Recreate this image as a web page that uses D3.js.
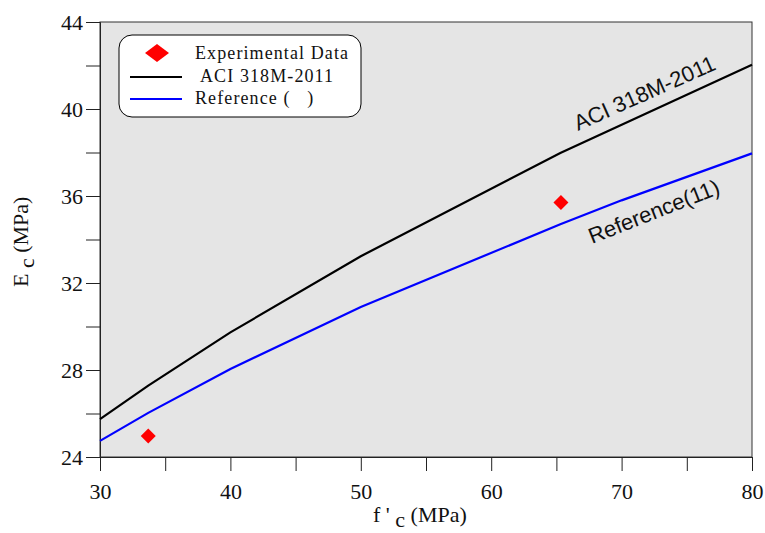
<!DOCTYPE html>
<html>
<head>
<meta charset="utf-8">
<script src="https://cdn.jsdelivr.net/npm/d3@7"></script>
<style>
  body { margin: 0; background: #fff; }
  svg { display: block; }
  .pre { white-space: pre; }
</style>
</head>
<body>
<div id="chart"></div>
<script>
// values
const aciFc = [30, 33.7, 40, 50, 65.3, 80];
const aciEc = [25.74, 27.28, 29.73, 33.23, 37.98, 42.04];
const refFc = [30, 33.7, 40, 50, 65.3, 70, 80];
const refEc = [24.74, 26.03, 28.05, 30.9, 34.7, 35.8, 37.96];
const expFc = [33.7, 65.35];
const expEc = [24.97, 35.7];
const xTicks = [30, 40, 50, 60, 70, 80];
const yTicks = [24, 28, 32, 36, 40, 44];

const width = 765;
const height = 533;
const margin = { top: 22, right: 13, bottom: 76, left: 100 };

const serif = "'Liberation Serif', 'Times New Roman', serif";
const sans = "'Liberation Sans', Arial, sans-serif";

const svg = d3.select('#chart')
  .append('svg')
  .attr('width', width)
  .attr('height', height);

const x = d3.scaleLinear()
  .domain([30, 80])
  .range([margin.left, width - margin.right]);

const y = d3.scaleLinear()
  .domain([24, 44])
  .range([height - margin.bottom, margin.top]);

// plot background
svg.append('rect')
  .attr('x', x(30))
  .attr('y', y(44))
  .attr('width', x(80) - x(30))
  .attr('height', y(24) - y(44))
  .attr('fill', '#e5e5e5')
  .attr('stroke', '#333')
  .attr('stroke-width', 1);

// x axis
svg.append('g')
  .attr('transform', `translate(0,${y(24)})`)
  .call(d3.axisBottom(x).tickValues(d3.range(30, 81, 5)).tickSize(14).tickFormat(d => xTicks.includes(d) ? d : ''))
  .attr('font-family', serif)
  .attr('font-size', 22)
  .call(g => g.select('.domain').attr('stroke', '#222'))
  .call(g => g.selectAll('.tick line').attr('stroke', '#222'))
  .call(g => g.selectAll('text')
    .attr('y', 26)
    .attr('dy', '0.71em')
    .attr('fill', '#111'));

// y axis
svg.append('g')
  .attr('transform', `translate(${x(30)},0)`)
  .call(d3.axisLeft(y).tickValues(d3.range(24, 45, 2)).tickSize(14).tickFormat(d => yTicks.includes(d) ? d : ''))
  .attr('font-family', serif)
  .attr('font-size', 22)
  .call(g => g.select('.domain').attr('stroke', '#222'))
  .call(g => g.selectAll('.tick line').attr('stroke', '#222'))
  .call(g => g.selectAll('text')
    .attr('x', -17)
    .attr('fill', '#111'));

// axis titles
const xTitle = svg.append('text')
  .attr('class', 'pre')
  .attr('x', 373)
  .attr('y', 522)
  .attr('fill', '#111')
  .attr('font-family', serif)
  .attr('font-size', 22);
xTitle.append('tspan').text("f ' ");
xTitle.append('tspan').attr('dy', 5).text('c');
xTitle.append('tspan').attr('dy', -5).text(' (MPa)');

const yTitle = svg.append('text')
  .attr('class', 'pre')
  .attr('transform', 'translate(28,287) rotate(-90)')
  .attr('fill', '#111')
  .attr('font-family', serif)
  .attr('font-size', 22);
yTitle.append('tspan').text('E ');
yTitle.append('tspan').attr('dy', 6).text('c');
yTitle.append('tspan').attr('dy', -6).text(' (MPa)');

// lines
const line = d3.line()
  .x(d => x(d[0]))
  .y(d => y(d[1]));

svg.append('path')
  .datum(aciFc.map((f, i) => [f, aciEc[i]]))
  .attr('fill', 'none')
  .attr('stroke', '#000')
  .attr('stroke-width', 2.2)
  .attr('d', line);

svg.append('path')
  .datum(refFc.map((f, i) => [f, refEc[i]]))
  .attr('fill', 'none')
  .attr('stroke', '#0000ff')
  .attr('stroke-width', 2.2)
  .attr('d', line);

svg.selectAll('.exp')
  .data(expFc.map((f, i) => [f, expEc[i]]))
  .enter()
  .append('path')
  .attr('class', 'exp')
  .attr('transform', d => `translate(${x(d[0])},${y(d[1])})`)
  .attr('d', 'M0,-7.5L7.5,0L0,7.5L-7.5,0Z')
  .attr('fill', '#ff0000');

// in-plot labels
svg.append('text')
  .attr('transform', 'translate(578,131) rotate(-24)')
  .attr('fill', '#111')
  .attr('font-family', sans)
  .attr('font-size', 22)
  .text('ACI 318M-2011');

svg.append('text')
  .attr('transform', 'translate(592,244) rotate(-21.5)')
  .attr('fill', '#111')
  .attr('font-family', sans)
  .attr('font-size', 22)
  .text('Reference(11)');

// legend
const legend = svg.append('g');
legend.append('rect')
  .attr('x', 119)
  .attr('y', 35)
  .attr('width', 242)
  .attr('height', 82)
  .attr('rx', 13)
  .attr('fill', '#fff')
  .attr('stroke', '#000')
  .attr('stroke-width', 1);

legend.append('path')
  .attr('transform', 'translate(157,53)')
  .attr('d', 'M0,-9L12,0L0,9L-12,0Z')
  .attr('fill', '#ff0000');
legend.append('line')
  .attr('x1', 130).attr('x2', 182).attr('y1', 77).attr('y2', 77)
  .attr('stroke', '#000').attr('stroke-width', 2.2);
legend.append('line')
  .attr('x1', 130).attr('x2', 182).attr('y1', 99).attr('y2', 99)
  .attr('stroke', '#0000ff').attr('stroke-width', 2.2);

const legendText = [['Experimental Data', 195, 59], ['ACI 318M-2011', 200, 82], ['Reference (   )', 195, 104]];
legend.selectAll('.lt')
  .data(legendText)
  .enter()
  .append('text')
  .attr('class', 'pre')
  .attr('x', d => d[1])
  .attr('y', d => d[2])
  .attr('fill', '#111')
  .attr('font-family', serif)
  .attr('font-size', 18)
  .attr('letter-spacing', 1.1)
  .text(d => d[0]);
</script>
</body>
</html>
